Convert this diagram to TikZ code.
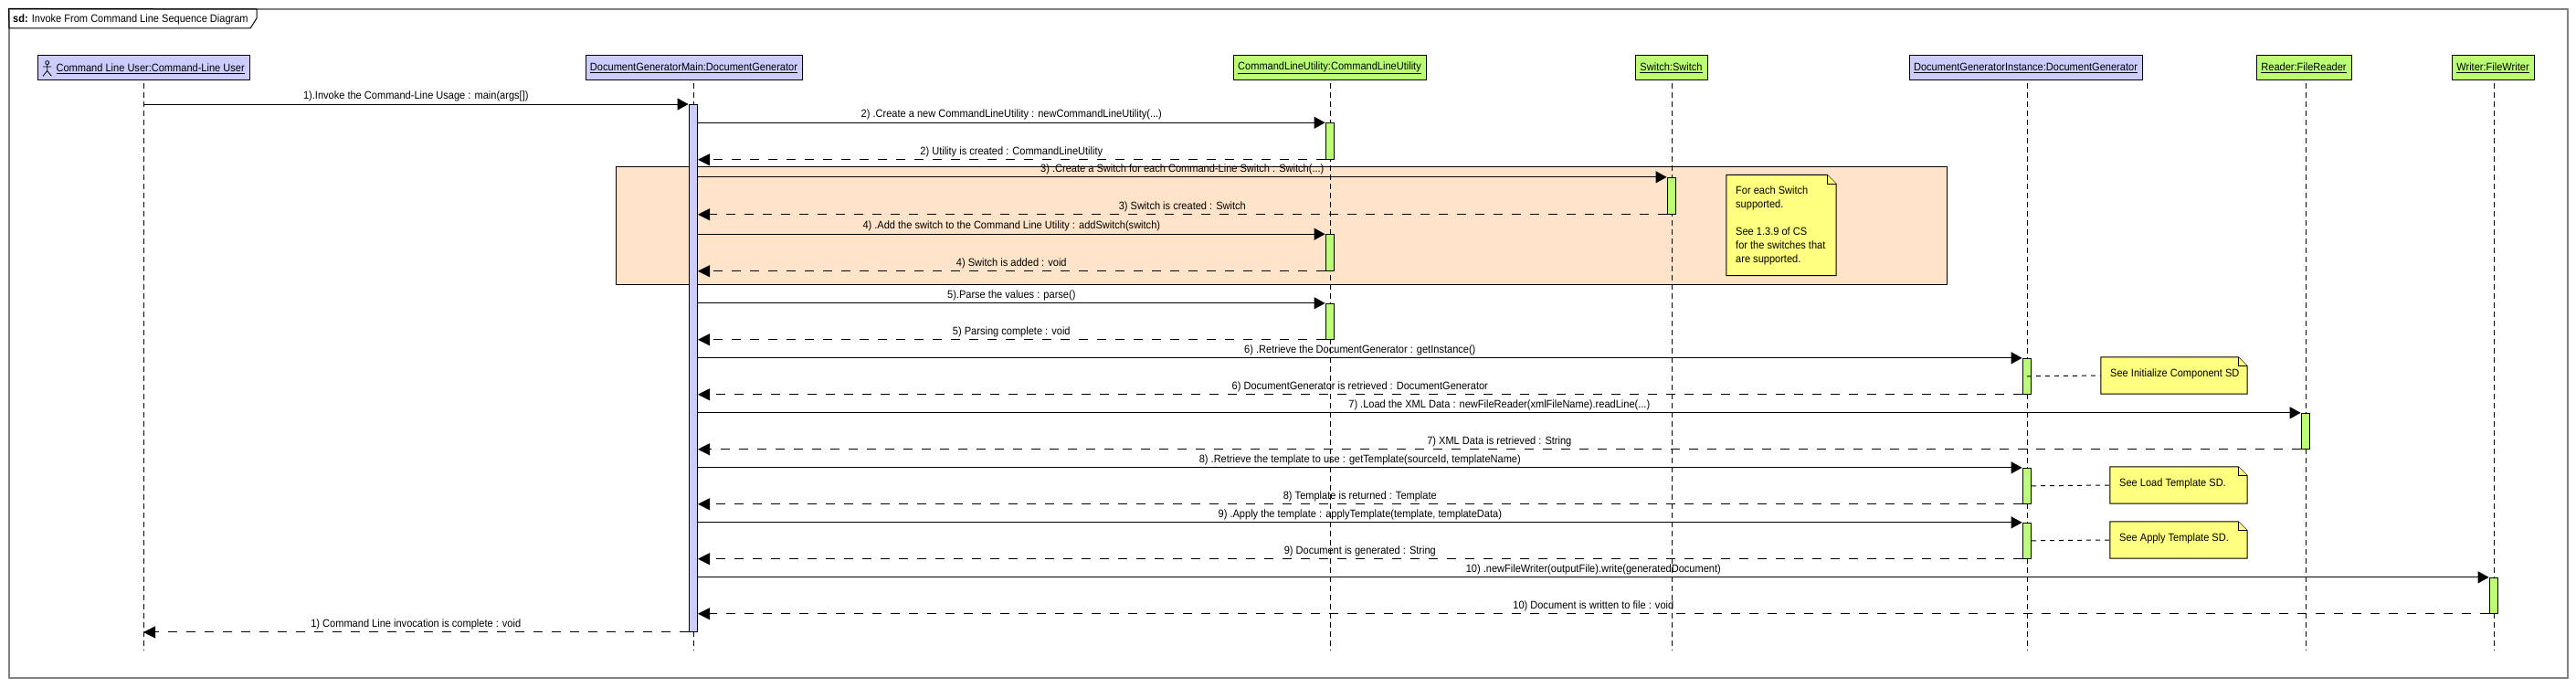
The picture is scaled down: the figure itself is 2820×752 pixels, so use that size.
\documentclass[tikz,border=0pt]{standalone}
\usepackage{fontspec}
\setmainfont[FakeStretch=0.92]{Liberation Sans}
\usetikzlibrary{arrows.meta,calc}
\definecolor{blueobj}{HTML}{CCCCFF}
\definecolor{greenobj}{HTML}{BBFF77}
\definecolor{loopfill}{HTML}{FFE4CA}
\definecolor{notefill}{HTML}{FFFF80}
\definecolor{framegray}{HTML}{808080}
\newcommand{\ul}[1]{\underline{#1}}
\tikzset{
  txt/.style={font=\fontsize{12}{15}\selectfont,inner sep=0pt,text=black},
  actorbox/.style={draw=black,line width=1pt,minimum height=26.5pt,inner sep=0pt,txt},
  life/.style={draw=black,line width=0.8pt,dash pattern=on 6pt off 4pt},
  bar/.style={draw=black,line width=0.9pt,minimum width=9.5pt,inner sep=0pt,fill=greenobj},
  msg/.style={draw=black,line width=1pt,-{Triangle[length=12pt,width=13pt]}},
  ret/.style={draw=black,line width=1pt,dash pattern=on 10pt off 10pt,-{Triangle[length=13pt,width=13pt]}},
  lab/.style={midway,txt,above=2.6pt},
  notebody/.style={inner sep=0pt},
  noteshape/.style={draw=black,line width=1pt,fill=notefill,line join=miter},
  notetext/.style={txt,anchor=west,align=left},
  dotline/.style={draw=black,line width=1pt,dash pattern=on 5pt off 5pt},
}
% #1 name, #2 centre, #3 width, #4 height
\newcommand{\notebox}[4]{%
  \node[notebody,minimum width=#3pt,minimum height=#4pt] (#1) at (#2) {};
  \path[noteshape] (#1.north west) -- ($(#1.north east)+(-10pt,0)$) -- ($(#1.north east)+(0,-10pt)$) -- (#1.south east) -- (#1.south west) -- cycle;
  \path[noteshape] ($(#1.north east)+(-10pt,0)$) -- ($(#1.north east)+(-10pt,-10pt)$) -- ($(#1.north east)+(0,-10pt)$);
}
\begin{document}
\begin{tikzpicture}[x=1pt,y=-1pt]
\useasboundingbox[fill=white] (0,0) rectangle (2820,752);

% frame
\node[inner sep=0pt,minimum width=2801pt,minimum height=732pt,draw=framegray,line width=1.2pt] (frame) at (1410.5,376) {};
\node[txt,anchor=west] (title) at (14,21.3) {\textbf{sd:} Invoke From Command Line Sequence Diagram};
\draw[black,line width=1pt] (frame.north west) -- (281,10) -- (281,20) -- (274,31) -- (10,31) -- cycle;

% loop region
\node[draw=black,line width=1pt,fill=loopfill,minimum width=1457pt,minimum height=129.7pt,inner sep=0pt] (loop) at (1402.5,246.85) {};

% participants
\node[actorbox,fill=blueobj,minimum width=232pt] (user) at (157,74.2) {};
\node[txt,anchor=west] (usertext) at (61.4,75) {\ul{Command Line User:Command-Line User}};
\node[actorbox,fill=blueobj,minimum width=237pt] (main) at (759.5,74.2) {\ul{DocumentGeneratorMain:DocumentGenerator}};
\node[actorbox,fill=greenobj,minimum width=211pt] (util) at (1455.5,74.2) {\ul{CommandLineUtility:CommandLineUtility}};
\node[actorbox,fill=greenobj,minimum width=79pt] (sw) at (1829.5,74.2) {\ul{Switch:Switch}};
\node[actorbox,fill=blueobj,minimum width=255pt] (inst) at (2217.5,74.2) {\ul{DocumentGeneratorInstance:DocumentGenerator}};
\node[actorbox,fill=greenobj,minimum width=104pt] (rd) at (2522,74.2) {\ul{Reader:FileReader}};
\node[actorbox,fill=greenobj,minimum width=90pt] (wr) at (2729,74.2) {\ul{Writer:FileWriter}};

% stick figure
\draw[black,line width=0.8pt] (51.7,68.6) circle (2pt);
\draw[black,line width=0.8pt] (51.7,70.6) -- (51.7,77.5) (47,73) -- (56.4,73) (47,83.3) -- (51.7,77.5) -- (56.4,83.3);

% lifeline ends
\coordinate (userS) at (157,91);  \coordinate (userE) at (157,712);
\coordinate (mainS) at (759,91);  \coordinate (mainE) at (759,712);
\coordinate (utilS) at (1456,91); \coordinate (utilE) at (1456,712);
\coordinate (swS)   at (1830,91); \coordinate (swE)   at (1830,712);
\coordinate (instS) at (2219,91); \coordinate (instE) at (2219,712);
\coordinate (rdS)   at (2524,91); \coordinate (rdE)   at (2524,712);
\coordinate (wrS)   at (2730,91); \coordinate (wrE)   at (2730,712);
\foreach \n in {user,main,util,sw,inst,rd,wr} \draw[life] (\n S) -- (\n E);

% activations
\node[bar,fill=blueobj,minimum height=577pt] (a0) at (758.8,403) {};
\node[bar,minimum height=39.6pt] (a2) at (1455.8,154.5) {};
\node[bar,minimum height=40pt]   (a3) at (1829.8,214.3) {};
\node[bar,minimum height=39.6pt] (a4) at (1455.8,276.5) {};
\node[bar,minimum height=39pt]   (a5) at (1455.8,351.8) {};
\node[bar,minimum height=39pt]   (a6) at (2218.8,411.8) {};
\node[bar,minimum height=39pt]   (a7) at (2523.8,471.8) {};
\node[bar,minimum height=39pt]   (a8) at (2218.8,531.8) {};
\node[bar,minimum height=39pt]   (a9) at (2218.8,591.8) {};
\node[bar,minimum height=39pt]   (a10) at (2729.8,651.8) {};

% messages
\draw[msg] (user.south |- a0.north west) -- node[lab] {1).Invoke the Command-Line Usage : main(args[])} (a0.north west);
\draw[msg] (a0.east |- a2.north west) -- node[lab] {2) .Create a new CommandLineUtility : newCommandLineUtility(...)} (a2.north west);
\draw[ret] (a2.south west) -- node[lab] {2) Utility is created : CommandLineUtility} (a0.east |- a2.south west);
\draw[msg] (a0.east |- a3.north west) -- node[lab] {3) .Create a Switch for each Command-Line Switch : Switch(...)} (a3.north west);
\draw[ret] (a3.south west) -- node[lab] {3) Switch is created : Switch} (a0.east |- a3.south west);
\draw[msg] (a0.east |- a4.north west) -- node[lab] {4) .Add the switch to the Command Line Utility : addSwitch(switch)} (a4.north west);
\draw[ret] (a4.south west) -- node[lab] {4) Switch is added : void} (a0.east |- a4.south west);
\draw[msg] (a0.east |- a5.north west) -- node[lab] {5).Parse the values : parse()} (a5.north west);
\draw[ret] (a5.south west) -- node[lab] {5) Parsing complete : void} (a0.east |- a5.south west);
\draw[msg] (a0.east |- a6.north west) -- node[lab] {6) .Retrieve the DocumentGenerator : getInstance()} (a6.north west);
\draw[ret] (a6.south west) -- node[lab] {6) DocumentGenerator is retrieved : DocumentGenerator} (a0.east |- a6.south west);
\draw[msg] (a0.east |- a7.north west) -- node[lab] {7) .Load the XML Data : newFileReader(xmlFileName).readLine(...)} (a7.north west);
\draw[ret] (a7.south west) -- node[lab] {7) XML Data is retrieved : String} (a0.east |- a7.south west);
\draw[msg] (a0.east |- a8.north west) -- node[lab] {8) .Retrieve the template to use : getTemplate(sourceId, templateName)} (a8.north west);
\draw[ret] (a8.south west) -- node[lab] {8) Template is returned : Template} (a0.east |- a8.south west);
\draw[msg] (a0.east |- a9.north west) -- node[lab] {9) .Apply the template : applyTemplate(template, templateData)} (a9.north west);
\draw[ret] (a9.south west) -- node[lab] {9) Document is generated : String} (a0.east |- a9.south west);
\draw[msg] (a0.east |- a10.north west) -- node[lab] {10) .newFileWriter(outputFile).write(generatedDocument)} (a10.north west);
\draw[ret] (a10.south west) -- node[lab] {10) Document is written to file : void} (a0.east |- a10.south west);
\draw[ret] (a0.south west) -- node[lab] {1) Command Line invocation is complete : void} (user.south |- a0.south west);

% notes
\notebox{n0}{1950,246.5}{120}{110}
\node[notetext] (n0t) at (1900,246.7) {For each Switch\\supported.\\ \\See 1.3.9 of CS\\for the switches that\\are supported.};
\notebox{n1}{2380,411}{160}{40}
\node[notetext] (n1t) at (2310,409) {See Initialize Component SD};
\notebox{n2}{2385,531}{150}{40}
\node[notetext] (n2t) at (2320,529) {See Load Template SD.};
\notebox{n3}{2385,591}{150}{40}
\node[notetext] (n3t) at (2320,589) {See Apply Template SD.};
\draw[dotline] (a6.center) -- (n1.west);
\draw[dotline] (a8.east) -- (n2.west);
\draw[dotline] (a9.east) -- (n3.west);
\end{tikzpicture}
\end{document}
